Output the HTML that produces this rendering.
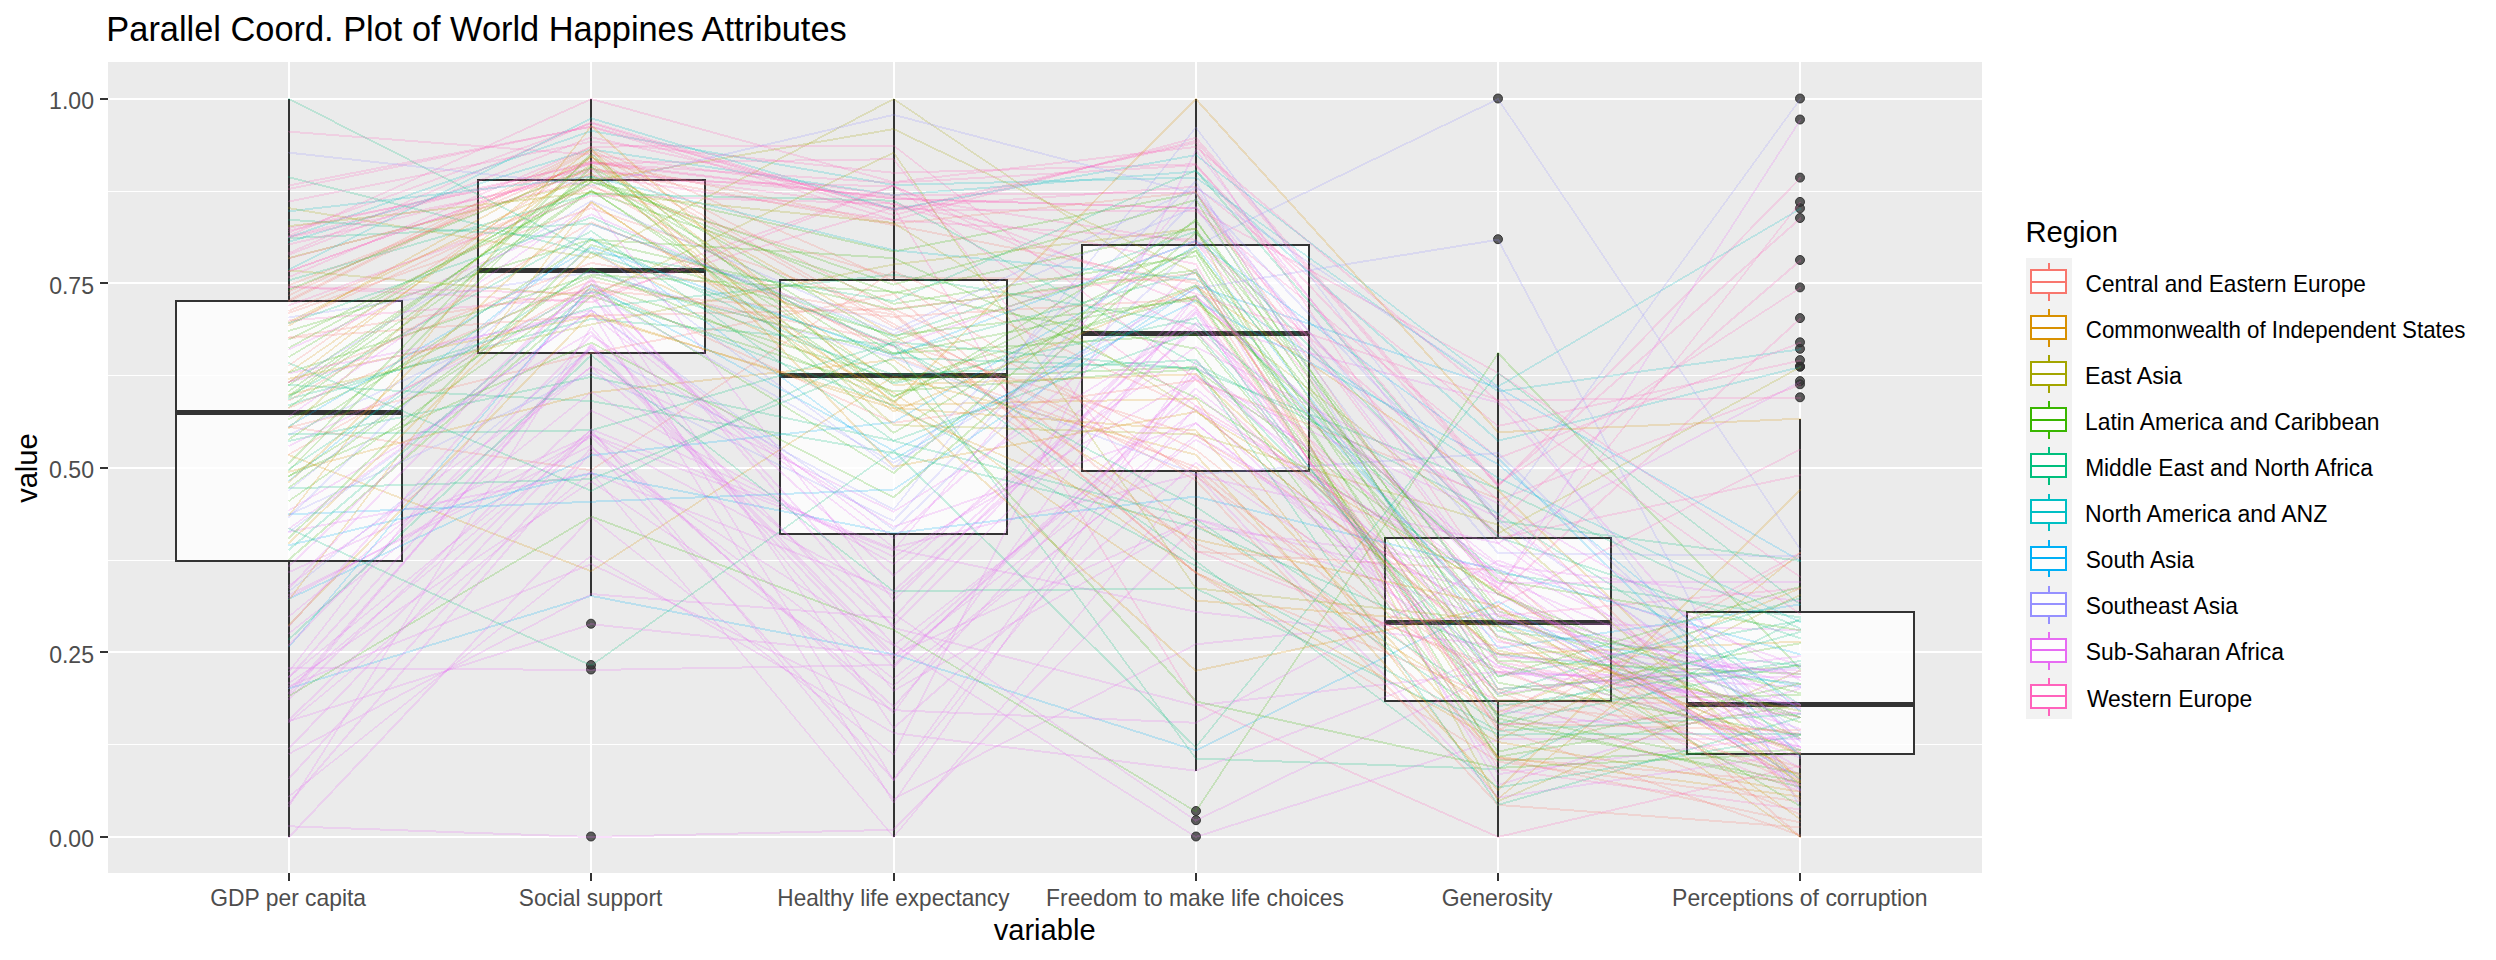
<!DOCTYPE html>
<html><head><meta charset="utf-8"><title>Parallel Coord. Plot</title>
<style>html,body{margin:0;padding:0;background:#fff;}body{width:2496px;height:960px;overflow:hidden;}svg{display:block;}text{font-family:"Liberation Sans",sans-serif;}</style></head><body>
<svg width="2496" height="960" viewBox="0 0 2496 960">
<rect x="0" y="0" width="2496" height="960" fill="#ffffff"/>
<rect x="108" y="62" width="1874" height="811" fill="#EBEBEB"/>
<g shape-rendering="crispEdges" fill="#ffffff">
<rect x="108" y="744" width="1874" height="1"/>
<rect x="108" y="560" width="1874" height="1"/>
<rect x="108" y="375" width="1874" height="1"/>
<rect x="108" y="191" width="1874" height="1"/>
<rect x="108" y="836" width="1874" height="2"/>
<rect x="108" y="651" width="1874" height="2"/>
<rect x="108" y="467" width="1874" height="2"/>
<rect x="108" y="282" width="1874" height="2"/>
<rect x="108" y="98" width="1874" height="2"/>
<rect x="288" y="62" width="2" height="811"/>
<rect x="590" y="62" width="2" height="811"/>
<rect x="893" y="62" width="2" height="811"/>
<rect x="1195" y="62" width="2" height="811"/>
<rect x="1497" y="62" width="2" height="811"/>
<rect x="1799" y="62" width="2" height="811"/>
</g>
<g shape-rendering="crispEdges">
<rect x="288" y="99" width="2" height="202" fill="#333"/>
<rect x="288" y="561" width="2" height="276" fill="#333"/>
<rect x="176" y="301" width="226" height="260" fill="#fff" fill-opacity="0.8" stroke="#333" stroke-width="2" stroke-linejoin="round"/>
<rect x="176" y="410" width="226" height="5" fill="#333"/>
<rect x="590" y="99" width="2" height="81" fill="#333"/>
<rect x="590" y="353" width="2" height="243" fill="#333"/>
<rect x="478" y="180" width="227" height="173" fill="#fff" fill-opacity="0.8" stroke="#333" stroke-width="2" stroke-linejoin="round"/>
<rect x="478" y="268" width="227" height="5" fill="#333"/>
<rect x="893" y="99" width="2" height="181" fill="#333"/>
<rect x="893" y="534" width="2" height="303" fill="#333"/>
<rect x="780" y="280" width="227" height="254" fill="#fff" fill-opacity="0.8" stroke="#333" stroke-width="2" stroke-linejoin="round"/>
<rect x="780" y="373" width="227" height="5" fill="#333"/>
<rect x="1195" y="99" width="2" height="146" fill="#333"/>
<rect x="1195" y="471" width="2" height="300" fill="#333"/>
<rect x="1082" y="245" width="227" height="226" fill="#fff" fill-opacity="0.8" stroke="#333" stroke-width="2" stroke-linejoin="round"/>
<rect x="1082" y="331" width="227" height="5" fill="#333"/>
<rect x="1497" y="353" width="2" height="185" fill="#333"/>
<rect x="1497" y="701" width="2" height="136" fill="#333"/>
<rect x="1385" y="538" width="226" height="163" fill="#fff" fill-opacity="0.8" stroke="#333" stroke-width="2" stroke-linejoin="round"/>
<rect x="1385" y="620" width="226" height="5" fill="#333"/>
<rect x="1799" y="419" width="2" height="193" fill="#333"/>
<rect x="1799" y="754" width="2" height="83" fill="#333"/>
<rect x="1687" y="612" width="227" height="142" fill="#fff" fill-opacity="0.8" stroke="#333" stroke-width="2" stroke-linejoin="round"/>
<rect x="1687" y="702" width="227" height="5" fill="#333"/>
</g>
<g fill="#333" fill-opacity="0.8" stroke="#2b2b2b" stroke-opacity="0.9" stroke-width="1">
<circle cx="591" cy="836.5" r="4.5"/>
<circle cx="591" cy="669.5" r="4.5"/>
<circle cx="591" cy="665.0" r="4.5"/>
<circle cx="591" cy="623.7" r="4.5"/>
<circle cx="1196" cy="836.5" r="4.5"/>
<circle cx="1196" cy="820.2" r="4.5"/>
<circle cx="1196" cy="811.0" r="4.5"/>
<circle cx="1498" cy="239.2" r="4.5"/>
<circle cx="1498" cy="98.5" r="4.5"/>
<circle cx="1800" cy="397.3" r="4.5"/>
<circle cx="1800" cy="384.3" r="4.5"/>
<circle cx="1800" cy="381.1" r="4.5"/>
<circle cx="1800" cy="366.6" r="4.5"/>
<circle cx="1800" cy="366.6" r="4.5"/>
<circle cx="1800" cy="360.1" r="4.5"/>
<circle cx="1800" cy="348.8" r="4.5"/>
<circle cx="1800" cy="342.3" r="4.5"/>
<circle cx="1800" cy="318.1" r="4.5"/>
<circle cx="1800" cy="287.4" r="4.5"/>
<circle cx="1800" cy="260.0" r="4.5"/>
<circle cx="1800" cy="218.0" r="4.5"/>
<circle cx="1800" cy="208.3" r="4.5"/>
<circle cx="1800" cy="201.9" r="4.5"/>
<circle cx="1800" cy="177.6" r="4.5"/>
<circle cx="1800" cy="119.5" r="4.5"/>
<circle cx="1800" cy="98.5" r="4.5"/>
</g>
<g fill="none" stroke-linecap="round" shape-rendering="crispEdges">
<g opacity="0.2" stroke="#00B0F6"><path stroke-width="1.91" d="M289.1 688.4L591.3 595.9"/><path stroke-width="1.96" d="M591.3 595.9L893.6 654.3"/><path stroke-width="1.91" d="M893.6 654.3L1195.8 750.4"/><path stroke-width="1.79" d="M1195.8 750.4L1498.1 601.3"/><path stroke-width="1.72" d="M1498.1 601.3L1800.3 778.9"/></g>
<g opacity="0.2" stroke="#F8766D"><path stroke-width="1.98" d="M289.1 427.0L591.3 470.2"/><path stroke-width="1.67" d="M591.3 470.2L893.6 271.0"/><path stroke-width="1.82" d="M893.6 271.0L1195.8 409.9"/><path stroke-width="1.56" d="M1195.8 409.9L1498.1 653.1"/><path stroke-width="1.83" d="M1498.1 653.1L1800.3 785.3"/></g>
<g opacity="0.2" stroke="#00BF7D"><path stroke-width="1.93" d="M289.1 398.9L591.3 319.0"/><path stroke-width="1.99" d="M591.3 319.0L893.6 344.8"/><path stroke-width="1.61" d="M893.6 344.8L1195.8 758.5"/><path stroke-width="2.00" d="M1195.8 758.5L1498.1 769.1"/><path stroke-width="1.79" d="M1498.1 769.1L1800.3 619.0"/></g>
<g opacity="0.2" stroke="#E76BF3"><path stroke-width="1.72" d="M289.1 510.3L591.3 332.0"/><path stroke-width="2.00" d="M591.3 332.0L893.6 644.3"/><path stroke-width="1.69" d="M893.6 644.3L1195.8 837.0"/><path stroke-width="1.90" d="M1195.8 837.0L1498.1 739.5"/><path stroke-width="2.00" d="M1498.1 739.5L1800.3 738.5"/></g>
<g opacity="0.2" stroke="#39B600"><path stroke-width="1.72" d="M289.1 356.8L591.3 178.0"/><path stroke-width="1.85" d="M591.3 178.0L893.6 303.9"/><path stroke-width="1.98" d="M893.6 303.9L1195.8 256.0"/><path stroke-width="1.72" d="M1195.8 256.0L1498.1 760.5"/><path stroke-width="2.00" d="M1498.1 760.5L1800.3 749.8"/></g>
<g opacity="0.2" stroke="#D89000"><path stroke-width="1.93" d="M289.1 471.8L591.3 392.6"/><path stroke-width="1.99" d="M591.3 392.6L893.6 359.8"/><path stroke-width="1.64" d="M893.6 359.8L1195.8 572.0"/><path stroke-width="1.74" d="M1195.8 572.0L1498.1 742.0"/><path stroke-width="1.97" d="M1498.1 742.0L1800.3 791.8"/></g>
<g opacity="0.2" stroke="#00BFC4"><path stroke-width="1.89" d="M289.1 237.3L591.3 130.9"/><path stroke-width="1.97" d="M591.3 130.9L893.6 185.0"/><path stroke-width="2.00" d="M893.6 185.0L1195.8 177.5"/><path stroke-width="1.63" d="M1195.8 177.5L1498.1 391.5"/><path stroke-width="1.98" d="M1498.1 391.5L1800.3 349.3"/></g>
<g opacity="0.2" stroke="#FF62BC"><path stroke-width="1.94" d="M289.1 236.8L591.3 161.8"/><path stroke-width="1.99" d="M591.3 161.8L893.6 198.6"/><path stroke-width="2.00" d="M893.6 198.6L1195.8 208.1"/><path stroke-width="2.00" d="M1195.8 208.1L1498.1 538.3"/><path stroke-width="1.96" d="M1498.1 538.3L1800.3 475.3"/></g>
<g opacity="0.2" stroke="#D89000"><path stroke-width="1.96" d="M289.1 378.7L591.3 315.8"/><path stroke-width="1.92" d="M591.3 315.8L893.6 404.9"/><path stroke-width="2.00" d="M893.6 404.9L1195.8 398.7"/><path stroke-width="1.60" d="M1195.8 398.7L1498.1 798.7"/><path stroke-width="1.55" d="M1498.1 798.7L1800.3 552.8"/></g>
<g opacity="0.2" stroke="#00BF7D"><path stroke-width="2.00" d="M289.1 238.2L591.3 223.8"/><path stroke-width="1.87" d="M591.3 223.8L893.6 336.9"/><path stroke-width="1.89" d="M893.6 336.9L1195.8 231.5"/><path stroke-width="2.00" d="M1195.8 231.5L1498.1 537.1"/><path stroke-width="1.90" d="M1498.1 537.1L1800.3 638.4"/></g>
<g opacity="0.2" stroke="#00B0F6"><path stroke-width="1.81" d="M289.1 598.9L591.3 455.4"/><path stroke-width="1.99" d="M591.3 455.4L893.6 422.1"/><path stroke-width="1.73" d="M893.6 422.1L1195.8 245.8"/><path stroke-width="1.60" d="M1195.8 245.8L1498.1 648.2"/><path stroke-width="1.98" d="M1498.1 648.2L1800.3 604.5"/></g>
<g opacity="0.2" stroke="#D89000"><path stroke-width="1.65" d="M289.1 372.0L591.3 164.5"/><path stroke-width="1.74" d="M591.3 164.5L893.6 335.4"/><path stroke-width="1.70" d="M893.6 335.4L1195.8 524.1"/><path stroke-width="1.70" d="M1195.8 524.1L1498.1 712.4"/><path stroke-width="1.85" d="M1498.1 712.4L1800.3 588.3"/></g>
<g opacity="0.2" stroke="#FF62BC"><path stroke-width="1.94" d="M289.1 244.5L591.3 171.3"/><path stroke-width="1.99" d="M591.3 171.3L893.6 196.4"/><path stroke-width="1.98" d="M893.6 196.4L1195.8 242.7"/><path stroke-width="1.54" d="M1195.8 242.7L1498.1 605.0"/><path stroke-width="1.78" d="M1498.1 605.0L1800.3 449.4"/></g>
<g opacity="0.2" stroke="#39B600"><path stroke-width="1.83" d="M289.1 475.8L591.3 342.8"/><path stroke-width="1.78" d="M591.3 342.8L893.6 497.4"/><path stroke-width="2.00" d="M893.6 497.4L1195.8 232.5"/><path stroke-width="1.56" d="M1195.8 232.5L1498.1 611.2"/><path stroke-width="1.93" d="M1498.1 611.2L1800.3 693.3"/></g>
<g opacity="0.2" stroke="#E76BF3"><path stroke-width="2.00" d="M289.1 667.8L591.3 670.0"/><path stroke-width="2.00" d="M591.3 670.0L893.6 665.0"/><path stroke-width="2.00" d="M893.6 665.0L1195.8 388.5"/><path stroke-width="1.55" d="M1195.8 388.5L1498.1 635.8"/><path stroke-width="1.91" d="M1498.1 635.8L1800.3 728.8"/></g>
<g opacity="0.2" stroke="#00B0F6"><path stroke-width="1.56" d="M289.1 480.8L591.3 237.7"/><path stroke-width="1.61" d="M591.3 237.7L893.6 459.4"/><path stroke-width="1.73" d="M893.6 459.4L1195.8 285.5"/><path stroke-width="1.89" d="M1195.8 285.5L1498.1 387.8"/><path stroke-width="1.74" d="M1498.1 387.8L1800.3 560.9"/></g>
<g opacity="0.2" stroke="#39B600"><path stroke-width="1.64" d="M289.1 500.9L591.3 288.0"/><path stroke-width="1.71" d="M591.3 288.0L893.6 473.0"/><path stroke-width="2.00" d="M893.6 473.0L1195.8 219.3"/><path stroke-width="1.65" d="M1195.8 219.3L1498.1 663.0"/><path stroke-width="1.92" d="M1498.1 663.0L1800.3 749.8"/></g>
<g opacity="0.2" stroke="#F8766D"><path stroke-width="1.94" d="M289.1 427.5L591.3 353.1"/><path stroke-width="1.96" d="M591.3 353.1L893.6 293.9"/><path stroke-width="2.00" d="M893.6 293.9L1195.8 551.6"/><path stroke-width="2.00" d="M1195.8 551.6L1498.1 570.4"/><path stroke-width="2.00" d="M1498.1 570.4L1800.3 837.0"/></g>
<g opacity="0.2" stroke="#E76BF3"><path stroke-width="1.95" d="M289.1 381.8L591.3 310.0"/><path stroke-width="1.60" d="M591.3 310.0L893.6 538.2"/><path stroke-width="2.00" d="M893.6 538.2L1195.8 269.2"/><path stroke-width="1.73" d="M1195.8 269.2L1498.1 785.2"/><path stroke-width="1.90" d="M1498.1 785.2L1800.3 688.4"/></g>
<g opacity="0.2" stroke="#39B600"><path stroke-width="1.62" d="M289.1 395.7L591.3 175.3"/><path stroke-width="1.72" d="M591.3 175.3L893.6 353.4"/><path stroke-width="2.00" d="M893.6 353.4L1195.8 334.5"/><path stroke-width="1.54" d="M1195.8 334.5L1498.1 701.2"/><path stroke-width="2.00" d="M1498.1 701.2L1800.3 694.9"/></g>
<g opacity="0.2" stroke="#F8766D"><path stroke-width="1.65" d="M289.1 365.3L591.3 156.9"/><path stroke-width="1.74" d="M591.3 156.9L893.6 326.8"/><path stroke-width="1.81" d="M893.6 326.8L1195.8 471.1"/><path stroke-width="2.00" d="M1195.8 471.1L1498.1 758.0"/><path stroke-width="1.96" d="M1498.1 758.0L1800.3 822.5"/></g>
<g opacity="0.2" stroke="#E76BF3"><path stroke-width="2.00" d="M289.1 696.5L591.3 344.6"/><path stroke-width="2.00" d="M591.3 344.6L893.6 655.0"/><path stroke-width="1.82" d="M893.6 655.0L1195.8 519.0"/><path stroke-width="1.89" d="M1195.8 519.0L1498.1 621.0"/><path stroke-width="2.00" d="M1498.1 621.0L1800.3 630.3"/></g>
<g opacity="0.2" stroke="#E76BF3"><path stroke-width="1.56" d="M289.1 796.3L591.3 555.5"/><path stroke-width="1.72" d="M591.3 555.5L893.6 733.1"/><path stroke-width="1.98" d="M893.6 733.1L1195.8 770.7"/><path stroke-width="1.86" d="M1195.8 770.7L1498.1 653.1"/><path stroke-width="1.96" d="M1498.1 653.1L1800.3 714.3"/></g>
<g opacity="0.2" stroke="#9590FF"><path stroke-width="1.56" d="M289.1 591.3L591.3 348.6"/><path stroke-width="1.77" d="M591.3 348.6L893.6 509.6"/><path stroke-width="1.57" d="M893.6 509.6L1195.8 127.5"/><path stroke-width="1.59" d="M1195.8 127.5L1498.1 521.1"/><path stroke-width="1.64" d="M1498.1 521.1L1800.3 732.0"/></g>
<g opacity="0.2" stroke="#E76BF3"><path stroke-width="1.77" d="M289.1 597.6L591.3 437.0"/><path stroke-width="2.00" d="M591.3 437.0L893.6 706.6"/><path stroke-width="2.00" d="M893.6 706.6L1195.8 374.2"/><path stroke-width="1.57" d="M1195.8 374.2L1498.1 611.2"/><path stroke-width="1.78" d="M1498.1 611.2L1800.3 767.6"/></g>
<g opacity="0.2" stroke="#00BFC4"><path stroke-width="1.91" d="M289.1 241.8L591.3 149.3"/><path stroke-width="1.98" d="M591.3 149.3L893.6 195.0"/><path stroke-width="1.99" d="M893.6 195.0L1195.8 171.4"/><path stroke-width="2.00" d="M1195.8 171.4L1498.1 440.8"/><path stroke-width="1.94" d="M1498.1 440.8L1800.3 367.1"/></g>
<g opacity="0.2" stroke="#E76BF3"><path stroke-width="2.00" d="M289.1 826.3L591.3 837.0"/><path stroke-width="2.00" d="M591.3 837.0L893.6 829.8"/><path stroke-width="2.00" d="M893.6 829.8L1195.8 526.1"/><path stroke-width="1.98" d="M1195.8 526.1L1498.1 568.0"/><path stroke-width="1.65" d="M1498.1 568.0L1800.3 775.6"/></g>
<g opacity="0.2" stroke="#E76BF3"><path stroke-width="1.55" d="M289.1 676.8L591.3 429.8"/><path stroke-width="1.55" d="M591.3 429.8L893.6 799.0"/><path stroke-width="1.78" d="M893.6 799.0L1195.8 644.3"/><path stroke-width="1.99" d="M1195.8 644.3L1498.1 613.6"/><path stroke-width="1.84" d="M1498.1 613.6L1800.3 740.1"/></g>
<g opacity="0.2" stroke="#39B600"><path stroke-width="1.91" d="M289.1 330.8L591.3 239.5"/><path stroke-width="2.00" d="M591.3 239.5L893.6 258.1"/><path stroke-width="1.82" d="M893.6 258.1L1195.8 397.7"/><path stroke-width="1.68" d="M1195.8 397.7L1498.1 593.9"/><path stroke-width="1.80" d="M1498.1 593.9L1800.3 738.5"/></g>
<g opacity="0.2" stroke="#A3A500"><path stroke-width="1.95" d="M289.1 394.4L591.3 324.4"/><path stroke-width="1.96" d="M591.3 324.4L893.6 264.5"/><path stroke-width="1.99" d="M893.6 264.5L1195.8 228.5"/><path stroke-width="1.77" d="M1195.8 228.5L1498.1 801.2"/><path stroke-width="1.84" d="M1498.1 801.2L1800.3 670.7"/></g>
<g opacity="0.2" stroke="#39B600"><path stroke-width="1.63" d="M289.1 407.4L591.3 191.0"/><path stroke-width="1.69" d="M591.3 191.0L893.6 382.0"/><path stroke-width="1.92" d="M893.6 382.0L1195.8 295.7"/><path stroke-width="1.62" d="M1195.8 295.7L1498.1 714.8"/><path stroke-width="1.96" d="M1498.1 714.8L1800.3 774.0"/></g>
<g opacity="0.2" stroke="#E76BF3"><path stroke-width="1.96" d="M289.1 531.8L591.3 472.9"/><path stroke-width="1.86" d="M591.3 472.9L893.6 591.2"/><path stroke-width="2.00" d="M893.6 591.2L1195.8 313.1"/><path stroke-width="1.61" d="M1195.8 313.1L1498.1 724.7"/><path stroke-width="2.00" d="M1498.1 724.7L1800.3 712.7"/></g>
<g opacity="0.2" stroke="#E76BF3"><path stroke-width="1.69" d="M289.1 806.1L591.3 327.0"/><path stroke-width="1.54" d="M591.3 327.0L893.6 690.8"/><path stroke-width="1.74" d="M893.6 690.8L1195.8 519.0"/><path stroke-width="1.94" d="M1195.8 519.0L1498.1 593.9"/><path stroke-width="1.77" d="M1498.1 593.9L1800.3 753.0"/></g>
<g opacity="0.2" stroke="#39B600"><path stroke-width="1.66" d="M289.1 385.0L591.3 182.0"/><path stroke-width="1.95" d="M591.3 182.0L893.6 251.6"/><path stroke-width="1.96" d="M893.6 251.6L1195.8 192.8"/><path stroke-width="1.68" d="M1195.8 192.8L1498.1 660.5"/><path stroke-width="2.00" d="M1498.1 660.5L1800.3 673.9"/></g>
<g opacity="0.2" stroke="#F8766D"><path stroke-width="1.99" d="M289.1 338.0L591.3 315.8"/><path stroke-width="2.00" d="M591.3 315.8L893.6 308.9"/><path stroke-width="1.81" d="M893.6 308.9L1195.8 449.7"/><path stroke-width="1.57" d="M1195.8 449.7L1498.1 688.9"/><path stroke-width="1.93" d="M1498.1 688.9L1800.3 774.0"/></g>
<g opacity="0.2" stroke="#FF62BC"><path stroke-width="2.00" d="M289.1 287.0L591.3 302.4"/><path stroke-width="1.87" d="M591.3 302.4L893.6 185.7"/><path stroke-width="1.62" d="M893.6 185.7L1195.8 405.8"/><path stroke-width="1.71" d="M1195.8 405.8L1498.1 587.7"/><path stroke-width="1.69" d="M1498.1 587.7L1800.3 780.5"/></g>
<g opacity="0.2" stroke="#F8766D"><path stroke-width="1.87" d="M289.1 285.2L591.3 168.6"/><path stroke-width="1.97" d="M591.3 168.6L893.6 225.1"/><path stroke-width="1.96" d="M893.6 225.1L1195.8 283.5"/><path stroke-width="1.69" d="M1195.8 283.5L1498.1 758.0"/><path stroke-width="1.99" d="M1498.1 758.0L1800.3 782.1"/></g>
<g opacity="0.2" stroke="#FF62BC"><path stroke-width="1.88" d="M289.1 232.4L591.3 123.2"/><path stroke-width="1.91" d="M591.3 123.2L893.6 215.1"/><path stroke-width="1.94" d="M893.6 215.1L1195.8 140.8"/><path stroke-width="2.00" d="M1195.8 140.8L1498.1 486.5"/><path stroke-width="2.00" d="M1498.1 486.5L1800.3 178.1"/></g>
<g opacity="0.2" stroke="#39B600"><path stroke-width="1.65" d="M289.1 397.5L591.3 190.1"/><path stroke-width="1.65" d="M591.3 190.1L893.6 397.1"/><path stroke-width="1.79" d="M893.6 397.1L1195.8 247.8"/><path stroke-width="1.65" d="M1195.8 247.8L1498.1 688.9"/><path stroke-width="1.99" d="M1498.1 688.9L1800.3 665.8"/></g>
<g opacity="0.2" stroke="#39B600"><path stroke-width="1.67" d="M289.1 439.1L591.3 240.0"/><path stroke-width="1.95" d="M591.3 240.0L893.6 309.7"/><path stroke-width="1.98" d="M893.6 309.7L1195.8 270.2"/><path stroke-width="1.63" d="M1195.8 270.2L1498.1 696.3"/><path stroke-width="1.97" d="M1498.1 696.3L1800.3 643.2"/></g>
<g opacity="0.2" stroke="#00BF7D"><path stroke-width="1.96" d="M289.1 440.9L591.3 376.9"/><path stroke-width="1.96" d="M591.3 376.9L893.6 440.8"/><path stroke-width="1.94" d="M893.6 440.8L1195.8 519.0"/><path stroke-width="1.66" d="M1195.8 519.0L1498.1 723.5"/><path stroke-width="1.96" d="M1498.1 723.5L1800.3 664.2"/></g>
<g opacity="0.2" stroke="#39B600"><path stroke-width="1.69" d="M289.1 476.3L591.3 284.4"/><path stroke-width="1.91" d="M591.3 284.4L893.6 379.2"/><path stroke-width="2.00" d="M893.6 379.2L1195.8 367.1"/><path stroke-width="1.58" d="M1195.8 367.1L1498.1 756.8"/><path stroke-width="1.97" d="M1498.1 756.8L1800.3 704.6"/></g>
<g opacity="0.2" stroke="#F8766D"><path stroke-width="1.79" d="M289.1 299.9L591.3 149.3"/><path stroke-width="1.77" d="M591.3 149.3L893.6 308.9"/><path stroke-width="1.99" d="M893.6 308.9L1195.8 273.3"/><path stroke-width="1.67" d="M1195.8 273.3L1498.1 730.9"/><path stroke-width="1.73" d="M1498.1 730.9L1800.3 556.0"/></g>
<g opacity="0.2" stroke="#E76BF3"><path stroke-width="2.00" d="M289.1 699.2L591.3 410.5"/><path stroke-width="1.80" d="M591.3 410.5L893.6 556.8"/><path stroke-width="1.72" d="M893.6 556.8L1195.8 376.3"/><path stroke-width="1.70" d="M1195.8 376.3L1498.1 565.5"/><path stroke-width="1.99" d="M1498.1 565.5L1800.3 601.2"/></g>
<g opacity="0.2" stroke="#FF62BC"><path stroke-width="1.84" d="M289.1 253.0L591.3 122.3"/><path stroke-width="1.92" d="M591.3 122.3L893.6 210.8"/><path stroke-width="1.95" d="M893.6 210.8L1195.8 142.8"/><path stroke-width="1.65" d="M1195.8 142.8L1498.1 587.7"/><path stroke-width="1.57" d="M1498.1 587.7L1800.3 202.4"/></g>
<g opacity="0.2" stroke="#FF62BC"><path stroke-width="1.93" d="M289.1 258.3L591.3 178.9"/><path stroke-width="2.00" d="M591.3 178.9L893.6 186.4"/><path stroke-width="1.86" d="M893.6 186.4L1195.8 306.9"/><path stroke-width="1.61" d="M1195.8 306.9L1498.1 716.1"/><path stroke-width="1.76" d="M1498.1 716.1L1800.3 552.8"/></g>
<g opacity="0.2" stroke="#E76BF3"><path stroke-width="1.96" d="M289.1 373.3L591.3 314.5"/><path stroke-width="1.58" d="M591.3 314.5L893.6 547.5"/><path stroke-width="1.94" d="M893.6 547.5L1195.8 474.1"/><path stroke-width="2.00" d="M1195.8 474.1L1498.1 797.5"/><path stroke-width="1.98" d="M1498.1 797.5L1800.3 753.0"/></g>
<g opacity="0.2" stroke="#D89000"><path stroke-width="1.87" d="M289.1 455.2L591.3 571.2"/><path stroke-width="1.68" d="M591.3 571.2L893.6 376.3"/><path stroke-width="1.94" d="M893.6 376.3L1195.8 454.7"/><path stroke-width="2.00" d="M1195.8 454.7L1498.1 790.1"/><path stroke-width="2.00" d="M1498.1 790.1L1800.3 489.8"/></g>
<g opacity="0.2" stroke="#FF62BC"><path stroke-width="1.96" d="M289.1 237.3L591.3 175.3"/><path stroke-width="1.98" d="M591.3 175.3L893.6 220.1"/><path stroke-width="2.00" d="M893.6 220.1L1195.8 239.7"/><path stroke-width="2.00" d="M1195.8 239.7L1498.1 500.1"/><path stroke-width="1.87" d="M1498.1 500.1L1800.3 384.8"/></g>
<g opacity="0.2" stroke="#E76BF3"><path stroke-width="1.82" d="M289.1 572.1L591.3 434.8"/><path stroke-width="1.77" d="M591.3 434.8L893.6 595.5"/><path stroke-width="2.00" d="M893.6 595.5L1195.8 328.4"/><path stroke-width="1.55" d="M1195.8 328.4L1498.1 575.4"/><path stroke-width="1.63" d="M1498.1 575.4L1800.3 790.2"/></g>
<g opacity="0.2" stroke="#FF62BC"><path stroke-width="1.99" d="M289.1 320.5L591.3 297.4"/><path stroke-width="1.92" d="M591.3 297.4L893.6 207.2"/><path stroke-width="1.71" d="M893.6 207.2L1195.8 703.5"/><path stroke-width="1.83" d="M1195.8 703.5L1498.1 837.0"/><path stroke-width="1.95" d="M1498.1 837.0L1800.3 765.9"/></g>
<g opacity="0.2" stroke="#39B600"><path stroke-width="1.62" d="M289.1 487.5L591.3 267.8"/><path stroke-width="1.83" d="M591.3 267.8L893.6 401.4"/><path stroke-width="1.72" d="M893.6 401.4L1195.8 221.3"/><path stroke-width="1.59" d="M1195.8 221.3L1498.1 616.1"/><path stroke-width="1.89" d="M1498.1 616.1L1800.3 722.3"/></g>
<g opacity="0.2" stroke="#E76BF3"><path stroke-width="1.66" d="M289.1 683.0L591.3 481.5"/><path stroke-width="1.66" d="M591.3 481.5L893.6 685.8"/><path stroke-width="1.54" d="M893.6 685.8L1195.8 435.4"/><path stroke-width="1.74" d="M1195.8 435.4L1498.1 608.7"/><path stroke-width="1.94" d="M1498.1 608.7L1800.3 685.2"/></g>
<g opacity="0.2" stroke="#39B600"><path stroke-width="1.72" d="M289.1 696.0L591.3 516.5"/><path stroke-width="1.87" d="M591.3 516.5L893.6 629.9"/><path stroke-width="1.71" d="M893.6 629.9L1195.8 811.5"/><path stroke-width="1.67" d="M1195.8 811.5L1498.1 353.2"/><path stroke-width="2.00" d="M1498.1 353.2L1800.3 669.1"/></g>
<g opacity="0.2" stroke="#39B600"><path stroke-width="2.00" d="M289.1 559.5L591.3 296.1"/><path stroke-width="1.91" d="M591.3 296.1L893.6 391.3"/><path stroke-width="1.99" d="M893.6 391.3L1195.8 369.1"/><path stroke-width="1.60" d="M1195.8 369.1L1498.1 593.9"/><path stroke-width="1.85" d="M1498.1 593.9L1800.3 717.5"/></g>
<g opacity="0.2" stroke="#A3A500"><path stroke-width="1.97" d="M289.1 208.2L591.3 257.9"/><path stroke-width="1.77" d="M591.3 257.9L893.6 99.0"/><path stroke-width="1.66" d="M893.6 99.0L1195.8 302.9"/><path stroke-width="1.59" d="M1195.8 302.9L1498.1 533.4"/><path stroke-width="1.75" d="M1498.1 533.4L1800.3 367.1"/></g>
<g opacity="0.2" stroke="#F8766D"><path stroke-width="1.89" d="M289.1 312.9L591.3 208.1"/><path stroke-width="1.89" d="M591.3 208.1L893.6 312.5"/><path stroke-width="2.00" d="M893.6 312.5L1195.8 573.0"/><path stroke-width="1.70" d="M1195.8 573.0L1498.1 761.7"/><path stroke-width="1.98" d="M1498.1 761.7L1800.3 801.5"/></g>
<g opacity="0.2" stroke="#FF62BC"><path stroke-width="1.82" d="M289.1 235.9L591.3 99.0"/><path stroke-width="1.93" d="M591.3 99.0L893.6 182.1"/><path stroke-width="1.99" d="M893.6 182.1L1195.8 146.9"/><path stroke-width="2.00" d="M1195.8 146.9L1498.1 401.4"/><path stroke-width="1.64" d="M1498.1 401.4L1800.3 614.1"/></g>
<g opacity="0.2" stroke="#00B0F6"><path stroke-width="2.00" d="M289.1 514.3L591.3 501.7"/><path stroke-width="2.00" d="M591.3 501.7L893.6 489.5"/><path stroke-width="1.66" d="M893.6 489.5L1195.8 287.6"/><path stroke-width="2.00" d="M1195.8 287.6L1498.1 624.7"/><path stroke-width="1.96" d="M1498.1 624.7L1800.3 686.8"/></g>
<g opacity="0.2" stroke="#9590FF"><path stroke-width="1.81" d="M289.1 434.7L591.3 291.6"/><path stroke-width="1.74" d="M591.3 291.6L893.6 463.0"/><path stroke-width="1.73" d="M893.6 463.0L1195.8 288.6"/><path stroke-width="1.97" d="M1195.8 288.6L1498.1 239.7"/><path stroke-width="1.77" d="M1498.1 239.7L1800.3 807.9"/></g>
<g opacity="0.2" stroke="#00BF7D"><path stroke-width="1.84" d="M289.1 363.1L591.3 490.9"/><path stroke-width="1.79" d="M591.3 490.9L893.6 341.9"/><path stroke-width="1.99" d="M893.6 341.9L1195.8 369.1"/><path stroke-width="1.86" d="M1195.8 369.1L1498.1 489.0"/><path stroke-width="1.82" d="M1498.1 489.0L1800.3 628.7"/></g>
<g opacity="0.2" stroke="#00BF7D"><path stroke-width="2.00" d="M289.1 385.0L591.3 401.1"/><path stroke-width="1.97" d="M591.3 401.1L893.6 453.0"/><path stroke-width="1.94" d="M893.6 453.0L1195.8 527.1"/><path stroke-width="1.84" d="M1195.8 527.1L1498.1 654.4"/><path stroke-width="1.99" d="M1498.1 654.4L1800.3 683.6"/></g>
<g opacity="0.2" stroke="#FF62BC"><path stroke-width="1.96" d="M289.1 189.0L591.3 126.4"/><path stroke-width="1.93" d="M591.3 126.4L893.6 209.3"/><path stroke-width="2.00" d="M893.6 209.3L1195.8 211.1"/><path stroke-width="1.55" d="M1195.8 211.1L1498.1 458.1"/><path stroke-width="1.87" d="M1498.1 458.1L1800.3 342.8"/></g>
<g opacity="0.2" stroke="#00BF7D"><path stroke-width="1.92" d="M289.1 280.3L591.3 193.7"/><path stroke-width="2.00" d="M591.3 193.7L893.6 200.7"/><path stroke-width="1.76" d="M893.6 200.7L1195.8 364.0"/><path stroke-width="1.79" d="M1195.8 364.0L1498.1 513.7"/><path stroke-width="1.69" d="M1498.1 513.7L1800.3 704.6"/></g>
<g opacity="0.2" stroke="#FF62BC"><path stroke-width="1.88" d="M289.1 271.3L591.3 163.2"/><path stroke-width="2.00" d="M591.3 163.2L893.6 159.2"/><path stroke-width="1.58" d="M893.6 159.2L1195.8 550.6"/><path stroke-width="1.86" d="M1195.8 550.6L1498.1 667.9"/><path stroke-width="1.85" d="M1498.1 667.9L1800.3 791.8"/></g>
<g opacity="0.2" stroke="#E76BF3"><path stroke-width="1.79" d="M289.1 594.9L591.3 445.6"/><path stroke-width="2.00" d="M591.3 445.6L893.6 779.7"/><path stroke-width="1.62" d="M893.6 779.7L1195.8 361.0"/><path stroke-width="2.00" d="M1195.8 361.0L1498.1 656.8"/><path stroke-width="2.00" d="M1498.1 656.8L1800.3 670.7"/></g>
<g opacity="0.2" stroke="#39B600"><path stroke-width="2.00" d="M289.1 470.5L591.3 166.8"/><path stroke-width="1.73" d="M591.3 166.8L893.6 340.5"/><path stroke-width="1.92" d="M893.6 340.5L1195.8 250.9"/><path stroke-width="1.68" d="M1195.8 250.9L1498.1 718.5"/><path stroke-width="1.95" d="M1498.1 718.5L1800.3 786.9"/></g>
<g opacity="0.2" stroke="#A3A500"><path stroke-width="1.94" d="M289.1 257.9L591.3 180.7"/><path stroke-width="1.97" d="M591.3 180.7L893.6 129.1"/><path stroke-width="1.81" d="M893.6 129.1L1195.8 273.3"/><path stroke-width="1.68" d="M1195.8 273.3L1498.1 739.5"/><path stroke-width="1.80" d="M1498.1 739.5L1800.3 594.8"/></g>
<g opacity="0.2" stroke="#00BF7D"><path stroke-width="1.67" d="M289.1 469.1L591.3 269.1"/><path stroke-width="1.89" d="M591.3 269.1L893.6 374.9"/><path stroke-width="2.00" d="M893.6 374.9L1195.8 360.0"/><path stroke-width="2.00" d="M1195.8 360.0L1498.1 676.6"/><path stroke-width="1.97" d="M1498.1 676.6L1800.3 620.6"/></g>
<g opacity="0.2" stroke="#D89000"><path stroke-width="1.75" d="M289.1 325.5L591.3 156.5"/><path stroke-width="1.60" d="M591.3 156.5L893.6 384.9"/><path stroke-width="2.00" d="M893.6 384.9L1195.8 374.2"/><path stroke-width="2.00" d="M1195.8 374.2L1498.1 654.4"/><path stroke-width="2.00" d="M1498.1 654.4L1800.3 641.6"/></g>
<g opacity="0.2" stroke="#E76BF3"><path stroke-width="1.54" d="M289.1 616.4L591.3 366.5"/><path stroke-width="1.80" d="M591.3 366.5L893.6 511.7"/><path stroke-width="1.70" d="M893.6 511.7L1195.8 323.3"/><path stroke-width="1.93" d="M1195.8 323.3L1498.1 402.6"/><path stroke-width="2.00" d="M1498.1 402.6L1800.3 748.2"/></g>
<g opacity="0.2" stroke="#F8766D"><path stroke-width="1.74" d="M289.1 454.3L591.3 284.8"/><path stroke-width="1.82" d="M591.3 284.8L893.6 422.9"/><path stroke-width="1.98" d="M893.6 422.9L1195.8 380.3"/><path stroke-width="1.86" d="M1195.8 380.3L1498.1 498.9"/><path stroke-width="2.00" d="M1498.1 498.9L1800.3 799.9"/></g>
<g opacity="0.2" stroke="#00BF7D"><path stroke-width="1.94" d="M289.1 177.3L591.3 253.0"/><path stroke-width="1.90" d="M591.3 253.0L893.6 353.4"/><path stroke-width="1.93" d="M893.6 353.4L1195.8 272.3"/><path stroke-width="2.00" d="M1195.8 272.3L1498.1 630.9"/><path stroke-width="1.99" d="M1498.1 630.9L1800.3 665.8"/></g>
<g opacity="0.2" stroke="#D89000"><path stroke-width="1.59" d="M289.1 599.8L591.3 201.4"/><path stroke-width="1.64" d="M591.3 201.4L893.6 411.4"/><path stroke-width="1.85" d="M893.6 411.4L1195.8 286.6"/><path stroke-width="1.66" d="M1195.8 286.6L1498.1 490.2"/><path stroke-width="2.00" d="M1498.1 490.2L1800.3 780.5"/></g>
<g opacity="0.2" stroke="#9590FF"><path stroke-width="1.81" d="M289.1 514.8L591.3 372.8"/><path stroke-width="1.80" d="M591.3 372.8L893.6 521.0"/><path stroke-width="2.00" d="M893.6 521.0L1195.8 198.9"/><path stroke-width="2.00" d="M1195.8 198.9L1498.1 553.2"/><path stroke-width="2.00" d="M1498.1 553.2L1800.3 556.0"/></g>
<g opacity="0.2" stroke="#F8766D"><path stroke-width="1.82" d="M289.1 323.2L591.3 184.3"/><path stroke-width="1.74" d="M591.3 184.3L893.6 356.2"/><path stroke-width="1.88" d="M893.6 356.2L1195.8 467.0"/><path stroke-width="2.00" d="M1195.8 467.0L1498.1 723.5"/><path stroke-width="2.00" d="M1498.1 723.5L1800.3 730.4"/></g>
<g opacity="0.2" stroke="#00BF7D"><path stroke-width="1.90" d="M289.1 405.1L591.3 307.7"/><path stroke-width="1.99" d="M591.3 307.7L893.6 274.5"/><path stroke-width="1.97" d="M893.6 274.5L1195.8 324.3"/><path stroke-width="1.54" d="M1195.8 324.3L1498.1 572.9"/><path stroke-width="1.98" d="M1498.1 572.9L1800.3 617.4"/></g>
<g opacity="0.2" stroke="#E76BF3"><path stroke-width="2.00" d="M289.1 625.8L591.3 291.6"/><path stroke-width="1.70" d="M591.3 291.6L893.6 780.4"/><path stroke-width="1.56" d="M893.6 780.4L1195.8 405.8"/><path stroke-width="2.00" d="M1195.8 405.8L1498.1 693.8"/><path stroke-width="1.98" d="M1498.1 693.8L1800.3 656.1"/></g>
<g opacity="0.2" stroke="#E76BF3"><path stroke-width="2.00" d="M289.1 803.0L591.3 451.8"/><path stroke-width="1.68" d="M591.3 451.8L893.6 645.7"/><path stroke-width="1.58" d="M893.6 645.7L1195.8 409.9"/><path stroke-width="1.74" d="M1195.8 409.9L1498.1 582.8"/><path stroke-width="1.65" d="M1498.1 582.8L1800.3 788.6"/></g>
<g opacity="0.2" stroke="#00BF7D"><path stroke-width="1.76" d="M289.1 396.2L591.3 231.0"/><path stroke-width="1.64" d="M591.3 231.0L893.6 440.8"/><path stroke-width="1.88" d="M893.6 440.8L1195.8 331.4"/><path stroke-width="1.54" d="M1195.8 331.4L1498.1 693.8"/><path stroke-width="1.91" d="M1498.1 693.8L1800.3 598.0"/></g>
<g opacity="0.2" stroke="#F8766D"><path stroke-width="1.79" d="M289.1 301.3L591.3 151.5"/><path stroke-width="1.74" d="M591.3 151.5L893.6 324.0"/><path stroke-width="1.78" d="M893.6 324.0L1195.8 480.2"/><path stroke-width="2.00" d="M1195.8 480.2L1498.1 804.9"/><path stroke-width="1.99" d="M1498.1 804.9L1800.3 827.3"/></g>
<g opacity="0.2" stroke="#FF62BC"><path stroke-width="1.99" d="M289.1 131.7L591.3 154.7"/><path stroke-width="1.98" d="M591.3 154.7L893.6 195.0"/><path stroke-width="2.00" d="M893.6 195.0L1195.8 192.8"/><path stroke-width="1.60" d="M1195.8 192.8L1498.1 595.1"/><path stroke-width="2.00" d="M1498.1 595.1L1800.3 318.6"/></g>
<g opacity="0.2" stroke="#F8766D"><path stroke-width="1.84" d="M289.1 407.8L591.3 280.8"/><path stroke-width="1.96" d="M591.3 280.8L893.6 341.9"/><path stroke-width="1.91" d="M893.6 341.9L1195.8 435.4"/><path stroke-width="1.70" d="M1195.8 435.4L1498.1 623.5"/><path stroke-width="1.84" d="M1498.1 623.5L1800.3 753.0"/></g>
<g opacity="0.2" stroke="#E76BF3"><path stroke-width="2.00" d="M289.1 719.7L591.3 429.4"/><path stroke-width="1.86" d="M591.3 429.4L893.6 549.0"/><path stroke-width="1.96" d="M893.6 549.0L1195.8 611.7"/><path stroke-width="1.99" d="M1195.8 611.7L1498.1 645.7"/><path stroke-width="1.88" d="M1498.1 645.7L1800.3 757.9"/></g>
<g opacity="0.2" stroke="#E76BF3"><path stroke-width="1.77" d="M289.1 753.8L591.3 594.1"/><path stroke-width="1.99" d="M591.3 594.1L893.6 617.7"/><path stroke-width="2.00" d="M893.6 617.7L1195.8 295.7"/><path stroke-width="2.00" d="M1195.8 295.7L1498.1 577.8"/><path stroke-width="1.84" d="M1498.1 577.8L1800.3 707.8"/></g>
<g opacity="0.2" stroke="#9590FF"><path stroke-width="1.98" d="M289.1 317.4L591.3 272.3"/><path stroke-width="1.92" d="M591.3 272.3L893.6 357.7"/><path stroke-width="1.87" d="M893.6 357.7L1195.8 474.1"/><path stroke-width="2.00" d="M1195.8 474.1L1498.1 453.2"/><path stroke-width="2.00" d="M1498.1 453.2L1800.3 741.7"/></g>
<g opacity="0.2" stroke="#E76BF3"><path stroke-width="1.58" d="M289.1 671.4L591.3 283.5"/><path stroke-width="1.65" d="M591.3 283.5L893.6 728.1"/><path stroke-width="2.00" d="M893.6 728.1L1195.8 462.9"/><path stroke-width="1.66" d="M1195.8 462.9L1498.1 665.5"/><path stroke-width="1.93" d="M1498.1 665.5L1800.3 746.6"/></g>
<g opacity="0.2" stroke="#FF62BC"><path stroke-width="1.88" d="M289.1 271.3L591.3 163.2"/><path stroke-width="1.99" d="M591.3 163.2L893.6 198.6"/><path stroke-width="2.00" d="M893.6 198.6L1195.8 208.1"/><path stroke-width="1.76" d="M1195.8 208.1L1498.1 373.0"/><path stroke-width="1.66" d="M1498.1 373.0L1800.3 577.0"/></g>
<g opacity="0.2" stroke="#E76BF3"><path stroke-width="2.00" d="M289.1 587.7L591.3 278.1"/><path stroke-width="2.00" d="M591.3 278.1L893.6 627.8"/><path stroke-width="1.94" d="M893.6 627.8L1195.8 705.5"/><path stroke-width="1.99" d="M1195.8 705.5L1498.1 671.6"/><path stroke-width="2.00" d="M1498.1 671.6L1800.3 686.8"/></g>
<g opacity="0.2" stroke="#E76BF3"><path stroke-width="1.83" d="M289.1 349.2L591.3 214.4"/><path stroke-width="1.83" d="M591.3 214.4L893.6 346.9"/><path stroke-width="1.89" d="M893.6 346.9L1195.8 241.7"/><path stroke-width="2.00" d="M1195.8 241.7L1498.1 534.6"/><path stroke-width="1.61" d="M1498.1 534.6L1800.3 756.3"/></g>
<g opacity="0.2" stroke="#39B600"><path stroke-width="1.90" d="M289.1 372.4L591.3 275.0"/><path stroke-width="2.00" d="M591.3 275.0L893.6 291.7"/><path stroke-width="1.97" d="M893.6 291.7L1195.8 348.7"/><path stroke-width="1.60" d="M1195.8 348.7L1498.1 751.8"/><path stroke-width="1.95" d="M1498.1 751.8L1800.3 683.6"/></g>
<g opacity="0.2" stroke="#D89000"><path stroke-width="2.00" d="M289.1 543.0L591.3 253.0"/><path stroke-width="1.82" d="M591.3 253.0L893.6 392.8"/><path stroke-width="1.65" d="M893.6 392.8L1195.8 600.5"/><path stroke-width="1.99" d="M1195.8 600.5L1498.1 626.0"/><path stroke-width="1.64" d="M1498.1 626.0L1800.3 837.0"/></g>
<g opacity="0.2" stroke="#A3A500"><path stroke-width="2.00" d="M289.1 427.9L591.3 156.0"/><path stroke-width="2.00" d="M591.3 156.0L893.6 425.0"/><path stroke-width="2.00" d="M893.6 425.0L1195.8 434.4"/><path stroke-width="1.92" d="M1195.8 434.4L1498.1 524.8"/><path stroke-width="2.00" d="M1498.1 524.8L1800.3 785.3"/></g>
<g opacity="0.2" stroke="#F8766D"><path stroke-width="1.86" d="M289.1 381.8L591.3 262.9"/><path stroke-width="1.97" d="M591.3 262.9L893.6 314.7"/><path stroke-width="2.00" d="M893.6 314.7L1195.8 573.0"/><path stroke-width="1.84" d="M1195.8 573.0L1498.1 700.0"/><path stroke-width="2.00" d="M1498.1 700.0L1800.3 706.2"/></g>
<g opacity="0.2" stroke="#00BF7D"><path stroke-width="2.00" d="M289.1 488.4L591.3 479.2"/><path stroke-width="1.86" d="M591.3 479.2L893.6 357.7"/><path stroke-width="2.00" d="M893.6 357.7L1195.8 368.1"/><path stroke-width="1.64" d="M1195.8 368.1L1498.1 804.9"/><path stroke-width="1.92" d="M1498.1 804.9L1800.3 717.5"/></g>
<g opacity="0.2" stroke="#E76BF3"><path stroke-width="2.00" d="M289.1 748.4L591.3 432.1"/><path stroke-width="2.00" d="M591.3 432.1L893.6 713.0"/><path stroke-width="1.62" d="M893.6 713.0L1195.8 295.7"/><path stroke-width="2.00" d="M1195.8 295.7L1498.1 582.8"/><path stroke-width="2.00" d="M1498.1 582.8L1800.3 581.8"/></g>
<g opacity="0.2" stroke="#9590FF"><path stroke-width="1.61" d="M289.1 531.8L591.3 310.0"/><path stroke-width="1.62" d="M591.3 310.0L893.6 529.6"/><path stroke-width="2.00" d="M893.6 529.6L1195.8 245.8"/><path stroke-width="1.80" d="M1195.8 245.8L1498.1 99.0"/><path stroke-width="1.66" d="M1498.1 99.0L1800.3 549.6"/></g>
<g opacity="0.2" stroke="#E76BF3"><path stroke-width="1.80" d="M289.1 445.8L591.3 297.4"/><path stroke-width="2.00" d="M591.3 297.4L893.6 575.5"/><path stroke-width="2.00" d="M893.6 575.5L1195.8 308.0"/><path stroke-width="1.68" d="M1195.8 308.0L1498.1 774.1"/><path stroke-width="1.98" d="M1498.1 774.1L1800.3 733.6"/></g>
<g opacity="0.2" stroke="#00B0F6"><path stroke-width="1.53" d="M289.1 646.8L591.3 285.7"/><path stroke-width="1.76" d="M591.3 285.7L893.6 450.8"/><path stroke-width="1.79" d="M893.6 450.8L1195.8 300.8"/><path stroke-width="1.76" d="M1195.8 300.8L1498.1 464.3"/><path stroke-width="1.55" d="M1498.1 464.3L1800.3 711.0"/></g>
<g opacity="0.2" stroke="#FF62BC"><path stroke-width="1.96" d="M289.1 227.9L591.3 169.0"/><path stroke-width="1.98" d="M591.3 169.0L893.6 207.9"/><path stroke-width="2.00" d="M893.6 207.9L1195.8 186.7"/><path stroke-width="1.57" d="M1195.8 186.7L1498.1 426.0"/><path stroke-width="1.95" d="M1498.1 426.0L1800.3 360.6"/></g>
<g opacity="0.2" stroke="#00BFC4"><path stroke-width="1.79" d="M289.1 269.5L591.3 118.3"/><path stroke-width="1.92" d="M591.3 118.3L893.6 209.3"/><path stroke-width="1.97" d="M893.6 209.3L1195.8 155.1"/><path stroke-width="1.59" d="M1195.8 155.1L1498.1 386.5"/><path stroke-width="1.72" d="M1498.1 386.5L1800.3 208.8"/></g>
<g opacity="0.2" stroke="#39B600"><path stroke-width="2.00" d="M289.1 538.0L591.3 244.9"/><path stroke-width="1.92" d="M591.3 244.9L893.6 335.4"/><path stroke-width="1.99" d="M893.6 335.4L1195.8 299.8"/><path stroke-width="2.00" d="M1195.8 299.8L1498.1 580.3"/><path stroke-width="1.97" d="M1498.1 580.3L1800.3 630.3"/></g>
<g opacity="0.2" stroke="#E76BF3"><path stroke-width="2.00" d="M289.1 778.4L591.3 447.8"/><path stroke-width="1.59" d="M591.3 447.8L893.6 678.7"/><path stroke-width="1.57" d="M893.6 678.7L1195.8 439.5"/><path stroke-width="1.71" d="M1195.8 439.5L1498.1 621.0"/><path stroke-width="1.97" d="M1498.1 621.0L1800.3 677.1"/></g>
<g opacity="0.2" stroke="#E76BF3"><path stroke-width="1.62" d="M289.1 528.6L591.3 310.9"/><path stroke-width="1.70" d="M591.3 310.9L893.6 802.6"/><path stroke-width="1.64" d="M893.6 802.6L1195.8 366.1"/><path stroke-width="1.61" d="M1195.8 366.1L1498.1 588.9"/><path stroke-width="1.68" d="M1498.1 588.9L1800.3 785.3"/></g>
<g opacity="0.2" stroke="#FF62BC"><path stroke-width="2.00" d="M289.1 287.0L591.3 293.4"/><path stroke-width="1.88" d="M591.3 293.4L893.6 185.7"/><path stroke-width="1.80" d="M893.6 185.7L1195.8 332.4"/><path stroke-width="2.00" d="M1195.8 332.4L1498.1 616.1"/><path stroke-width="1.99" d="M1498.1 616.1L1800.3 588.3"/></g>
<g opacity="0.2" stroke="#FF62BC"><path stroke-width="1.96" d="M289.1 185.4L591.3 126.8"/><path stroke-width="1.91" d="M591.3 126.8L893.6 220.1"/><path stroke-width="1.93" d="M893.6 220.1L1195.8 137.7"/><path stroke-width="2.00" d="M1195.8 137.7L1498.1 484.0"/><path stroke-width="1.68" d="M1498.1 484.0L1800.3 287.9"/></g>
<g opacity="0.2" stroke="#00B0F6"><path stroke-width="1.95" d="M289.1 545.2L591.3 473.4"/><path stroke-width="1.96" d="M591.3 473.4L893.6 533.2"/><path stroke-width="1.99" d="M893.6 533.2L1195.8 496.5"/><path stroke-width="1.94" d="M1195.8 496.5L1498.1 570.4"/><path stroke-width="1.93" d="M1498.1 570.4L1800.3 654.5"/></g>
<g opacity="0.2" stroke="#00BF7D"><path stroke-width="2.00" d="M289.1 549.7L591.3 290.7"/><path stroke-width="1.87" d="M591.3 290.7L893.6 405.7"/><path stroke-width="1.77" d="M893.6 405.7L1195.8 565.9"/><path stroke-width="1.76" d="M1195.8 565.9L1498.1 730.9"/><path stroke-width="2.00" d="M1498.1 730.9L1800.3 714.3"/></g>
<g opacity="0.2" stroke="#39B600"><path stroke-width="1.80" d="M289.1 339.3L591.3 191.5"/><path stroke-width="1.90" d="M591.3 191.5L893.6 293.2"/><path stroke-width="1.96" d="M893.6 293.2L1195.8 228.5"/><path stroke-width="1.67" d="M1195.8 228.5L1498.1 682.7"/><path stroke-width="1.97" d="M1498.1 682.7L1800.3 735.3"/></g>
<g opacity="0.2" stroke="#39B600"><path stroke-width="2.00" d="M289.1 463.3L591.3 153.8"/><path stroke-width="1.56" d="M591.3 153.8L893.6 396.3"/><path stroke-width="1.88" d="M893.6 396.3L1195.8 285.5"/><path stroke-width="2.00" d="M1195.8 285.5L1498.1 637.1"/><path stroke-width="1.93" d="M1498.1 637.1L1800.3 717.5"/></g>
<g opacity="0.2" stroke="#39B600"><path stroke-width="1.81" d="M289.1 419.0L591.3 276.3"/><path stroke-width="1.94" d="M591.3 276.3L893.6 354.1"/><path stroke-width="1.96" d="M893.6 354.1L1195.8 296.8"/><path stroke-width="1.63" d="M1195.8 296.8L1498.1 723.5"/><path stroke-width="1.96" d="M1498.1 723.5L1800.3 782.1"/></g>
<g opacity="0.2" stroke="#9590FF"><path stroke-width="1.56" d="M289.1 490.2L591.3 248.0"/><path stroke-width="1.61" d="M591.3 248.0L893.6 469.4"/><path stroke-width="2.00" d="M893.6 469.4L1195.8 181.6"/><path stroke-width="1.72" d="M1195.8 181.6L1498.1 688.9"/><path stroke-width="1.99" d="M1498.1 688.9L1800.3 667.4"/></g>
<g opacity="0.2" stroke="#F8766D"><path stroke-width="1.85" d="M289.1 310.7L591.3 187.0"/><path stroke-width="1.92" d="M591.3 187.0L893.6 277.4"/><path stroke-width="2.00" d="M893.6 277.4L1195.8 280.4"/><path stroke-width="1.63" d="M1195.8 280.4L1498.1 703.7"/><path stroke-width="1.99" d="M1498.1 703.7L1800.3 733.6"/></g>
<g opacity="0.2" stroke="#FF62BC"><path stroke-width="1.88" d="M289.1 305.3L591.3 195.5"/><path stroke-width="2.00" d="M591.3 195.5L893.6 203.6"/><path stroke-width="1.96" d="M893.6 203.6L1195.8 264.1"/><path stroke-width="1.72" d="M1195.8 264.1L1498.1 769.1"/><path stroke-width="1.98" d="M1498.1 769.1L1800.3 809.5"/></g>
<g opacity="0.2" stroke="#00BF7D"><path stroke-width="1.78" d="M289.1 99.0L591.3 252.1"/><path stroke-width="1.97" d="M591.3 252.1L893.6 301.1"/><path stroke-width="1.84" d="M893.6 301.1L1195.8 170.4"/><path stroke-width="2.00" d="M1195.8 170.4L1498.1 521.1"/><path stroke-width="1.98" d="M1498.1 521.1L1800.3 560.9"/></g>
<g opacity="0.2" stroke="#F8766D"><path stroke-width="1.98" d="M289.1 337.5L591.3 289.8"/><path stroke-width="1.99" d="M591.3 289.8L893.6 316.8"/><path stroke-width="2.00" d="M893.6 316.8L1195.8 298.8"/><path stroke-width="1.64" d="M1195.8 298.8L1498.1 728.4"/><path stroke-width="1.89" d="M1498.1 728.4L1800.3 835.4"/></g>
<g opacity="0.2" stroke="#D89000"><path stroke-width="1.79" d="M289.1 321.9L591.3 173.1"/><path stroke-width="1.58" d="M591.3 173.1L893.6 407.8"/><path stroke-width="1.99" d="M893.6 407.8L1195.8 430.3"/><path stroke-width="2.00" d="M1195.8 430.3L1498.1 756.8"/><path stroke-width="1.98" d="M1498.1 756.8L1800.3 796.6"/></g>
<g opacity="0.2" stroke="#E76BF3"><path stroke-width="1.53" d="M289.1 688.4L591.3 434.8"/><path stroke-width="1.87" d="M591.3 434.8L893.6 550.4"/><path stroke-width="1.53" d="M893.6 550.4L1195.8 188.7"/><path stroke-width="1.60" d="M1195.8 188.7L1498.1 590.2"/><path stroke-width="1.68" d="M1498.1 590.2L1800.3 120.0"/></g>
<g opacity="0.2" stroke="#00BF7D"><path stroke-width="2.00" d="M289.1 219.8L591.3 239.5"/><path stroke-width="1.81" d="M591.3 239.5L893.6 383.5"/><path stroke-width="1.95" d="M893.6 383.5L1195.8 318.2"/><path stroke-width="1.59" d="M1195.8 318.2L1498.1 716.1"/><path stroke-width="1.93" d="M1498.1 716.1L1800.3 631.9"/></g>
<g opacity="0.2" stroke="#E76BF3"><path stroke-width="2.00" d="M289.1 645.0L591.3 335.6"/><path stroke-width="1.69" d="M591.3 335.6L893.6 526.8"/><path stroke-width="1.89" d="M893.6 526.8L1195.8 423.1"/><path stroke-width="1.56" d="M1195.8 423.1L1498.1 666.7"/><path stroke-width="1.98" d="M1498.1 666.7L1800.3 704.6"/></g>
<g opacity="0.2" stroke="#F8766D"><path stroke-width="1.72" d="M289.1 400.6L591.3 222.4"/><path stroke-width="1.85" d="M591.3 222.4L893.6 346.2"/><path stroke-width="1.67" d="M893.6 346.2L1195.8 543.4"/><path stroke-width="1.84" d="M1195.8 543.4L1498.1 671.6"/><path stroke-width="1.91" d="M1498.1 671.6L1800.3 767.6"/></g>
<g opacity="0.2" stroke="#E76BF3"><path stroke-width="1.54" d="M289.1 722.4L591.3 472.0"/><path stroke-width="1.54" d="M591.3 472.0L893.6 837.0"/><path stroke-width="1.53" d="M893.6 837.0L1195.8 475.1"/><path stroke-width="1.95" d="M1195.8 475.1L1498.1 543.3"/><path stroke-width="1.65" d="M1498.1 543.3L1800.3 751.4"/></g>
<g opacity="0.2" stroke="#9590FF"><path stroke-width="1.99" d="M289.1 152.7L591.3 185.6"/><path stroke-width="1.95" d="M591.3 185.6L893.6 114.8"/><path stroke-width="1.93" d="M893.6 114.8L1195.8 193.8"/><path stroke-width="2.00" d="M1195.8 193.8L1498.1 514.9"/><path stroke-width="1.62" d="M1498.1 514.9L1800.3 99.0"/></g>
<g opacity="0.2" stroke="#F8766D"><path stroke-width="1.80" d="M289.1 295.5L591.3 147.0"/><path stroke-width="1.83" d="M591.3 147.0L893.6 281.0"/><path stroke-width="1.68" d="M893.6 281.0L1195.8 476.2"/><path stroke-width="1.63" d="M1195.8 476.2L1498.1 691.4"/><path stroke-width="1.85" d="M1498.1 691.4L1800.3 814.4"/></g>
<g opacity="0.2" stroke="#F8766D"><path stroke-width="1.84" d="M289.1 291.4L591.3 160.9"/><path stroke-width="1.96" d="M591.3 160.9L893.6 223.7"/><path stroke-width="1.99" d="M893.6 223.7L1195.8 191.8"/><path stroke-width="1.66" d="M1195.8 191.8L1498.1 639.5"/><path stroke-width="1.87" d="M1498.1 639.5L1800.3 754.6"/></g>
<g opacity="0.2" stroke="#E76BF3"><path stroke-width="2.00" d="M289.1 837.0L591.3 517.4"/><path stroke-width="1.57" d="M591.3 517.4L893.6 754.6"/><path stroke-width="1.79" d="M893.6 754.6L1195.8 150.0"/><path stroke-width="1.59" d="M1195.8 150.0L1498.1 543.3"/><path stroke-width="1.76" d="M1498.1 543.3L1800.3 381.6"/></g>
<g opacity="0.2" stroke="#E76BF3"><path stroke-width="1.64" d="M289.1 416.3L591.3 204.0"/><path stroke-width="1.59" d="M591.3 204.0L893.6 600.6"/><path stroke-width="2.00" d="M893.6 600.6L1195.8 311.0"/><path stroke-width="1.59" d="M1195.8 311.0L1498.1 709.9"/><path stroke-width="1.99" d="M1498.1 709.9L1800.3 746.6"/></g>
<g opacity="0.2" stroke="#A3A500"><path stroke-width="1.99" d="M289.1 270.4L591.3 296.5"/><path stroke-width="1.81" d="M591.3 296.5L893.6 152.7"/><path stroke-width="1.64" d="M893.6 152.7L1195.8 588.3"/><path stroke-width="1.99" d="M1195.8 588.3L1498.1 621.0"/><path stroke-width="1.83" d="M1498.1 621.0L1800.3 754.6"/></g>
<g opacity="0.2" stroke="#E76BF3"><path stroke-width="1.85" d="M289.1 686.2L591.3 564.1"/><path stroke-width="1.80" d="M591.3 564.1L893.6 710.2"/><path stroke-width="2.00" d="M893.6 710.2L1195.8 722.8"/><path stroke-width="1.76" d="M1195.8 722.8L1498.1 560.6"/><path stroke-width="1.89" d="M1498.1 560.6L1800.3 665.8"/></g>
<g opacity="0.2" stroke="#FF62BC"><path stroke-width="1.84" d="M289.1 277.1L591.3 146.6"/><path stroke-width="2.00" d="M591.3 146.6L893.6 145.6"/><path stroke-width="1.58" d="M893.6 145.6L1195.8 379.3"/><path stroke-width="2.00" d="M1195.8 379.3L1498.1 661.8"/><path stroke-width="1.97" d="M1498.1 661.8L1800.3 717.5"/></g>
<g opacity="0.2" stroke="#00B0F6"><path stroke-width="1.72" d="M289.1 426.2L591.3 247.1"/><path stroke-width="1.88" d="M591.3 247.1L893.6 355.5"/><path stroke-width="1.87" d="M893.6 355.5L1195.8 240.7"/><path stroke-width="1.62" d="M1195.8 240.7L1498.1 458.1"/><path stroke-width="2.00" d="M1498.1 458.1L1800.3 756.3"/></g>
<g opacity="0.2" stroke="#E76BF3"><path stroke-width="2.00" d="M289.1 566.2L591.3 280.4"/><path stroke-width="2.00" d="M591.3 280.4L893.6 613.5"/><path stroke-width="1.65" d="M893.6 613.5L1195.8 820.7"/><path stroke-width="1.79" d="M1195.8 820.7L1498.1 671.6"/><path stroke-width="1.99" d="M1498.1 671.6L1800.3 704.6"/></g>
<g opacity="0.2" stroke="#FF62BC"><path stroke-width="1.95" d="M289.1 230.6L591.3 163.2"/><path stroke-width="2.00" d="M591.3 163.2L893.6 182.8"/><path stroke-width="2.00" d="M893.6 182.8L1195.8 165.3"/><path stroke-width="2.00" d="M1195.8 165.3L1498.1 485.3"/><path stroke-width="2.00" d="M1498.1 485.3L1800.3 218.5"/></g>
<g opacity="0.2" stroke="#FF62BC"><path stroke-width="1.96" d="M289.1 201.5L591.3 141.6"/><path stroke-width="1.99" d="M591.3 141.6L893.6 172.8"/><path stroke-width="2.00" d="M893.6 172.8L1195.8 164.2"/><path stroke-width="2.00" d="M1195.8 164.2L1498.1 521.1"/><path stroke-width="2.00" d="M1498.1 521.1L1800.3 260.5"/></g>
<g opacity="0.2" stroke="#00BF7D"><path stroke-width="1.82" d="M289.1 528.6L591.3 665.5"/><path stroke-width="1.63" d="M591.3 665.5L893.6 450.8"/><path stroke-width="2.00" d="M893.6 450.8L1195.8 747.3"/><path stroke-width="1.56" d="M1195.8 747.3L1498.1 373.0"/><path stroke-width="1.59" d="M1498.1 373.0L1800.3 604.5"/></g>
<g opacity="0.2" stroke="#A3A500"><path stroke-width="1.99" d="M289.1 226.1L591.3 192.4"/><path stroke-width="1.99" d="M591.3 192.4L893.6 223.0"/><path stroke-width="1.70" d="M893.6 223.0L1195.8 410.9"/><path stroke-width="1.57" d="M1195.8 410.9L1498.1 650.6"/><path stroke-width="1.96" d="M1498.1 650.6L1800.3 711.0"/></g>
<g opacity="0.2" stroke="#D89000"><path stroke-width="2.00" d="M289.1 624.9L591.3 313.6"/><path stroke-width="1.91" d="M591.3 313.6L893.6 408.5"/><path stroke-width="1.84" d="M893.6 408.5L1195.8 539.4"/><path stroke-width="1.95" d="M1195.8 539.4L1498.1 606.2"/><path stroke-width="1.73" d="M1498.1 606.2L1800.3 782.1"/></g>
<g opacity="0.2" stroke="#E76BF3"><path stroke-width="1.56" d="M289.1 633.4L591.3 392.1"/><path stroke-width="1.74" d="M591.3 392.1L893.6 564.0"/><path stroke-width="1.62" d="M893.6 564.0L1195.8 346.7"/><path stroke-width="1.77" d="M1195.8 346.7L1498.1 503.8"/><path stroke-width="1.73" d="M1498.1 503.8L1800.3 680.4"/></g>
<g opacity="0.2" stroke="#9590FF"><path stroke-width="1.71" d="M289.1 382.3L591.3 200.9"/><path stroke-width="1.84" d="M591.3 200.9L893.6 330.4"/><path stroke-width="1.81" d="M893.6 330.4L1195.8 187.7"/><path stroke-width="1.67" d="M1195.8 187.7L1498.1 387.8"/><path stroke-width="1.60" d="M1498.1 387.8L1800.3 790.2"/></g>
<g opacity="0.2" stroke="#E76BF3"><path stroke-width="1.90" d="M289.1 721.1L591.3 624.2"/><path stroke-width="1.99" d="M591.3 624.2L893.6 655.7"/><path stroke-width="2.00" d="M893.6 655.7L1195.8 394.6"/><path stroke-width="1.55" d="M1195.8 394.6L1498.1 642.0"/><path stroke-width="1.99" d="M1498.1 642.0L1800.3 673.9"/></g>
<g opacity="0.2" stroke="#39B600"><path stroke-width="1.85" d="M289.1 289.7L591.3 167.2"/><path stroke-width="2.00" d="M591.3 167.2L893.6 432.9"/><path stroke-width="1.71" d="M893.6 432.9L1195.8 250.9"/><path stroke-width="1.56" d="M1195.8 250.9L1498.1 626.0"/><path stroke-width="1.72" d="M1498.1 626.0L1800.3 806.3"/></g>
<g opacity="0.2" stroke="#00BF7D"><path stroke-width="2.00" d="M289.1 434.2L591.3 430.3"/><path stroke-width="1.92" d="M591.3 430.3L893.6 342.6"/><path stroke-width="1.62" d="M893.6 342.6L1195.8 560.8"/><path stroke-width="1.60" d="M1195.8 560.8L1498.1 787.6"/><path stroke-width="1.97" d="M1498.1 787.6L1800.3 735.3"/></g>
<g opacity="0.2" stroke="#00BF7D"><path stroke-width="1.89" d="M289.1 323.2L591.3 217.5"/><path stroke-width="1.84" d="M591.3 217.5L893.6 345.5"/><path stroke-width="1.76" d="M893.6 345.5L1195.8 506.7"/><path stroke-width="1.67" d="M1195.8 506.7L1498.1 706.2"/><path stroke-width="1.98" d="M1498.1 706.2L1800.3 661.0"/></g>
<g opacity="0.2" stroke="#D89000"><path stroke-width="1.58" d="M289.1 382.3L591.3 148.8"/><path stroke-width="2.00" d="M591.3 148.8L893.6 466.6"/><path stroke-width="1.97" d="M893.6 466.6L1195.8 411.9"/><path stroke-width="1.72" d="M1195.8 411.9L1498.1 591.4"/><path stroke-width="1.70" d="M1498.1 591.4L1800.3 777.2"/></g>
<g opacity="0.2" stroke="#E76BF3"><path stroke-width="2.00" d="M289.1 692.9L591.3 347.7"/><path stroke-width="2.00" d="M591.3 347.7L893.6 667.2"/><path stroke-width="2.00" d="M893.6 667.2L1195.8 378.3"/><path stroke-width="1.82" d="M1195.8 378.3L1498.1 517.4"/><path stroke-width="1.61" d="M1498.1 517.4L1800.3 738.5"/></g>
<g opacity="0.2" stroke="#D89000"><path stroke-width="2.00" d="M289.1 482.1L591.3 202.7"/><path stroke-width="1.67" d="M591.3 202.7L893.6 400.6"/><path stroke-width="2.00" d="M893.6 400.6L1195.8 670.8"/><path stroke-width="1.96" d="M1195.8 670.8L1498.1 606.2"/><path stroke-width="1.63" d="M1498.1 606.2L1800.3 819.2"/></g>
<g opacity="0.2" stroke="#FF62BC"><path stroke-width="1.86" d="M289.1 254.7L591.3 137.2"/><path stroke-width="1.95" d="M591.3 137.2L893.6 204.3"/><path stroke-width="1.92" d="M893.6 204.3L1195.8 293.7"/><path stroke-width="1.89" d="M1195.8 293.7L1498.1 400.1"/><path stroke-width="2.00" d="M1498.1 400.1L1800.3 397.8"/></g>
<g opacity="0.2" stroke="#00BFC4"><path stroke-width="1.99" d="M289.1 211.3L591.3 176.7"/><path stroke-width="1.94" d="M591.3 176.7L893.6 250.2"/><path stroke-width="1.99" d="M893.6 250.2L1195.8 279.4"/><path stroke-width="1.67" d="M1195.8 279.4L1498.1 477.9"/><path stroke-width="1.80" d="M1498.1 477.9L1800.3 622.2"/></g>
<g opacity="0.2" stroke="#39B600"><path stroke-width="1.75" d="M289.1 347.8L591.3 182.0"/><path stroke-width="1.89" d="M591.3 182.0L893.6 284.6"/><path stroke-width="1.93" d="M893.6 284.6L1195.8 199.9"/><path stroke-width="1.69" d="M1195.8 199.9L1498.1 676.6"/><path stroke-width="1.92" d="M1498.1 676.6L1800.3 586.7"/></g>
<g opacity="0.2" stroke="#D89000"><path stroke-width="1.58" d="M289.1 515.2L591.3 125.9"/><path stroke-width="2.00" d="M591.3 125.9L893.6 403.5"/><path stroke-width="2.00" d="M893.6 403.5L1195.8 99.0"/><path stroke-width="2.00" d="M1195.8 99.0L1498.1 432.2"/><path stroke-width="2.00" d="M1498.1 432.2L1800.3 418.7"/></g>
<g opacity="0.2" stroke="#39B600"><path stroke-width="1.63" d="M289.1 391.2L591.3 177.6"/><path stroke-width="1.70" d="M591.3 177.6L893.6 366.3"/><path stroke-width="2.00" d="M893.6 366.3L1195.8 701.4"/><path stroke-width="1.95" d="M1195.8 701.4L1498.1 767.9"/><path stroke-width="2.00" d="M1498.1 767.9L1800.3 753.0"/></g>
<g opacity="0.2" stroke="#9590FF"><path stroke-width="2.00" d="M289.1 517.0L591.3 224.2"/><path stroke-width="1.88" d="M591.3 224.2L893.6 334.0"/><path stroke-width="1.84" d="M893.6 334.0L1195.8 207.0"/><path stroke-width="1.61" d="M1195.8 207.0L1498.1 618.6"/><path stroke-width="1.92" d="M1498.1 618.6L1800.3 709.4"/></g>
<g opacity="0.2" stroke="#00BF7D"><path stroke-width="2.00" d="M289.1 639.2L591.3 355.3"/><path stroke-width="1.58" d="M591.3 355.3L893.6 591.2"/><path stroke-width="2.00" d="M893.6 591.2L1195.8 588.3"/><path stroke-width="1.80" d="M1195.8 588.3L1498.1 734.6"/><path stroke-width="2.00" d="M1498.1 734.6L1800.3 733.6"/></g>
<g opacity="0.2" stroke="#E76BF3"><path stroke-width="1.62" d="M289.1 585.5L591.3 367.0"/><path stroke-width="2.00" d="M591.3 367.0L893.6 625.6"/><path stroke-width="2.00" d="M893.6 625.6L1195.8 324.3"/><path stroke-width="1.57" d="M1195.8 324.3L1498.1 564.3"/><path stroke-width="1.81" d="M1498.1 564.3L1800.3 704.6"/></g>
<g opacity="0.2" stroke="#E76BF3"><path stroke-width="2.00" d="M289.1 677.2L591.3 345.9"/><path stroke-width="2.00" d="M591.3 345.9L893.6 659.3"/><path stroke-width="1.58" d="M893.6 659.3L1195.8 423.1"/><path stroke-width="1.54" d="M1195.8 423.1L1498.1 674.1"/><path stroke-width="2.00" d="M1498.1 674.1L1800.3 677.1"/></g>
</g>
<g shape-rendering="crispEdges" fill="#333333">
<rect x="100" y="836" width="8" height="2"/>
<rect x="100" y="651" width="8" height="2"/>
<rect x="100" y="467" width="8" height="2"/>
<rect x="100" y="282" width="8" height="2"/>
<rect x="100" y="98" width="8" height="2"/>
<rect x="288" y="873" width="2" height="8"/>
<rect x="590" y="873" width="2" height="8"/>
<rect x="893" y="873" width="2" height="8"/>
<rect x="1195" y="873" width="2" height="8"/>
<rect x="1497" y="873" width="2" height="8"/>
<rect x="1799" y="873" width="2" height="8"/>
</g>
<text transform="translate(49.07,847.0) scale(0.9865,1)" font-size="23.4px" fill="#4D4D4D">0.00</text>
<text transform="translate(49.13,662.5) scale(0.9865,1)" font-size="23.4px" fill="#4D4D4D">0.25</text>
<text transform="translate(49.07,478.0) scale(0.9865,1)" font-size="23.4px" fill="#4D4D4D">0.50</text>
<text transform="translate(49.13,293.5) scale(0.9865,1)" font-size="23.4px" fill="#4D4D4D">0.75</text>
<text transform="translate(49.07,109.0) scale(0.9865,1)" font-size="23.4px" fill="#4D4D4D">1.00</text>
<text transform="translate(210.36,905.8) scale(0.9765,1)" font-size="23.4px" fill="#4D4D4D">GDP per capita</text>
<text transform="translate(518.78,905.8) scale(0.9676,1)" font-size="23.4px" fill="#4D4D4D">Social support</text>
<text transform="translate(777.34,905.8) scale(0.9647,1)" font-size="23.4px" fill="#4D4D4D">Healthy life expectancy</text>
<text transform="translate(1046.12,905.8) scale(0.9742,1)" font-size="23.4px" fill="#4D4D4D">Freedom to make life choices</text>
<text transform="translate(1441.65,905.8) scale(0.9802,1)" font-size="23.4px" fill="#4D4D4D">Generosity</text>
<text transform="translate(1672.10,905.8) scale(0.9823,1)" font-size="23.4px" fill="#4D4D4D">Perceptions of corruption</text>
<text transform="translate(106.36,40.9) scale(0.9821,1)" font-size="35.0px" fill="#000">Parallel Coord. Plot of World Happines Attributes</text>
<text transform="translate(993.73,940) scale(0.9860,1)" font-size="29.5px" fill="#000">variable</text>
<text transform="translate(37.3,502.87) rotate(-90) scale(0.9859,1)" font-size="29.5px" fill="#000">value</text>
<text transform="translate(2025.39,241.8) scale(0.9903,1)" font-size="29.5px" fill="#000">Region</text>
<rect x="2026" y="258" width="46" height="461" fill="#F2F2F2"/>
<g fill="#F8766D" shape-rendering="crispEdges">
<rect x="2031" y="270" width="35" height="23" fill="#ffffff" fill-opacity="0.8"/>
<rect x="2030" y="269" width="37" height="2"/><rect x="2030" y="292" width="37" height="2"/><rect x="2030" y="281" width="37" height="2"/>
<rect x="2030" y="269" width="2" height="25"/><rect x="2065" y="269" width="2" height="25"/>
<rect x="2048" y="263" width="2" height="6"/><rect x="2048" y="294" width="2" height="7"/>
</g>
<text transform="translate(2085.57,291.8) scale(0.9671,1)" font-size="23.4px" fill="#000">Central and Eastern Europe</text>
<g fill="#D89000" shape-rendering="crispEdges">
<rect x="2031" y="316" width="35" height="23" fill="#ffffff" fill-opacity="0.8"/>
<rect x="2030" y="315" width="37" height="2"/><rect x="2030" y="338" width="37" height="2"/><rect x="2030" y="327" width="37" height="2"/>
<rect x="2030" y="315" width="2" height="25"/><rect x="2065" y="315" width="2" height="25"/>
<rect x="2048" y="309" width="2" height="6"/><rect x="2048" y="340" width="2" height="7"/>
</g>
<text transform="translate(2085.78,337.9) scale(0.9538,1)" font-size="23.4px" fill="#000">Commonwealth of Independent States</text>
<g fill="#A3A500" shape-rendering="crispEdges">
<rect x="2031" y="362" width="35" height="23" fill="#ffffff" fill-opacity="0.8"/>
<rect x="2030" y="361" width="37" height="2"/><rect x="2030" y="384" width="37" height="2"/><rect x="2030" y="373" width="37" height="2"/>
<rect x="2030" y="361" width="2" height="25"/><rect x="2065" y="361" width="2" height="25"/>
<rect x="2048" y="355" width="2" height="6"/><rect x="2048" y="386" width="2" height="7"/>
</g>
<text transform="translate(2085.08,384.0) scale(0.9932,1)" font-size="23.4px" fill="#000">East Asia</text>
<g fill="#39B600" shape-rendering="crispEdges">
<rect x="2031" y="408" width="35" height="23" fill="#ffffff" fill-opacity="0.8"/>
<rect x="2030" y="407" width="37" height="2"/><rect x="2030" y="430" width="37" height="2"/><rect x="2030" y="419" width="37" height="2"/>
<rect x="2030" y="407" width="2" height="25"/><rect x="2065" y="407" width="2" height="25"/>
<rect x="2048" y="401" width="2" height="6"/><rect x="2048" y="432" width="2" height="7"/>
</g>
<text transform="translate(2085.12,430.0) scale(0.9762,1)" font-size="23.4px" fill="#000">Latin America and Caribbean</text>
<g fill="#00BF7D" shape-rendering="crispEdges">
<rect x="2031" y="454" width="35" height="23" fill="#ffffff" fill-opacity="0.8"/>
<rect x="2030" y="453" width="37" height="2"/><rect x="2030" y="476" width="37" height="2"/><rect x="2030" y="465" width="37" height="2"/>
<rect x="2030" y="453" width="2" height="25"/><rect x="2065" y="453" width="2" height="25"/>
<rect x="2048" y="447" width="2" height="6"/><rect x="2048" y="478" width="2" height="7"/>
</g>
<text transform="translate(2085.13,476.1) scale(0.9706,1)" font-size="23.4px" fill="#000">Middle East and North Africa</text>
<g fill="#00BFC4" shape-rendering="crispEdges">
<rect x="2031" y="500" width="35" height="23" fill="#ffffff" fill-opacity="0.8"/>
<rect x="2030" y="499" width="37" height="2"/><rect x="2030" y="522" width="37" height="2"/><rect x="2030" y="511" width="37" height="2"/>
<rect x="2030" y="499" width="2" height="25"/><rect x="2065" y="499" width="2" height="25"/>
<rect x="2048" y="494" width="2" height="5"/><rect x="2048" y="524" width="2" height="7"/>
</g>
<text transform="translate(2085.10,522.2) scale(0.9857,1)" font-size="23.4px" fill="#000">North America and ANZ</text>
<g fill="#00B0F6" shape-rendering="crispEdges">
<rect x="2031" y="547" width="35" height="23" fill="#ffffff" fill-opacity="0.8"/>
<rect x="2030" y="546" width="37" height="2"/><rect x="2030" y="569" width="37" height="2"/><rect x="2030" y="557" width="37" height="2"/>
<rect x="2030" y="546" width="2" height="25"/><rect x="2065" y="546" width="2" height="25"/>
<rect x="2048" y="540" width="2" height="6"/><rect x="2048" y="571" width="2" height="6"/>
</g>
<text transform="translate(2085.68,568.3) scale(0.9697,1)" font-size="23.4px" fill="#000">South Asia</text>
<g fill="#9590FF" shape-rendering="crispEdges">
<rect x="2031" y="593" width="35" height="23" fill="#ffffff" fill-opacity="0.8"/>
<rect x="2030" y="592" width="37" height="2"/><rect x="2030" y="615" width="37" height="2"/><rect x="2030" y="603" width="37" height="2"/>
<rect x="2030" y="592" width="2" height="25"/><rect x="2065" y="592" width="2" height="25"/>
<rect x="2048" y="586" width="2" height="6"/><rect x="2048" y="617" width="2" height="7"/>
</g>
<text transform="translate(2085.67,614.4) scale(0.9756,1)" font-size="23.4px" fill="#000">Southeast Asia</text>
<g fill="#E76BF3" shape-rendering="crispEdges">
<rect x="2031" y="639" width="35" height="23" fill="#ffffff" fill-opacity="0.8"/>
<rect x="2030" y="638" width="37" height="2"/><rect x="2030" y="661" width="37" height="2"/><rect x="2030" y="649" width="37" height="2"/>
<rect x="2030" y="638" width="2" height="25"/><rect x="2065" y="638" width="2" height="25"/>
<rect x="2048" y="632" width="2" height="6"/><rect x="2048" y="663" width="2" height="7"/>
</g>
<text transform="translate(2085.67,660.4) scale(0.9783,1)" font-size="23.4px" fill="#000">Sub-Saharan Africa</text>
<g fill="#FF62BC" shape-rendering="crispEdges">
<rect x="2031" y="685" width="35" height="23" fill="#ffffff" fill-opacity="0.8"/>
<rect x="2030" y="684" width="37" height="2"/><rect x="2030" y="707" width="37" height="2"/><rect x="2030" y="695" width="37" height="2"/>
<rect x="2030" y="684" width="2" height="25"/><rect x="2065" y="684" width="2" height="25"/>
<rect x="2048" y="678" width="2" height="6"/><rect x="2048" y="709" width="2" height="7"/>
</g>
<text transform="translate(2086.89,706.5) scale(0.9806,1)" font-size="23.4px" fill="#000">Western Europe</text>
</svg></body></html>
